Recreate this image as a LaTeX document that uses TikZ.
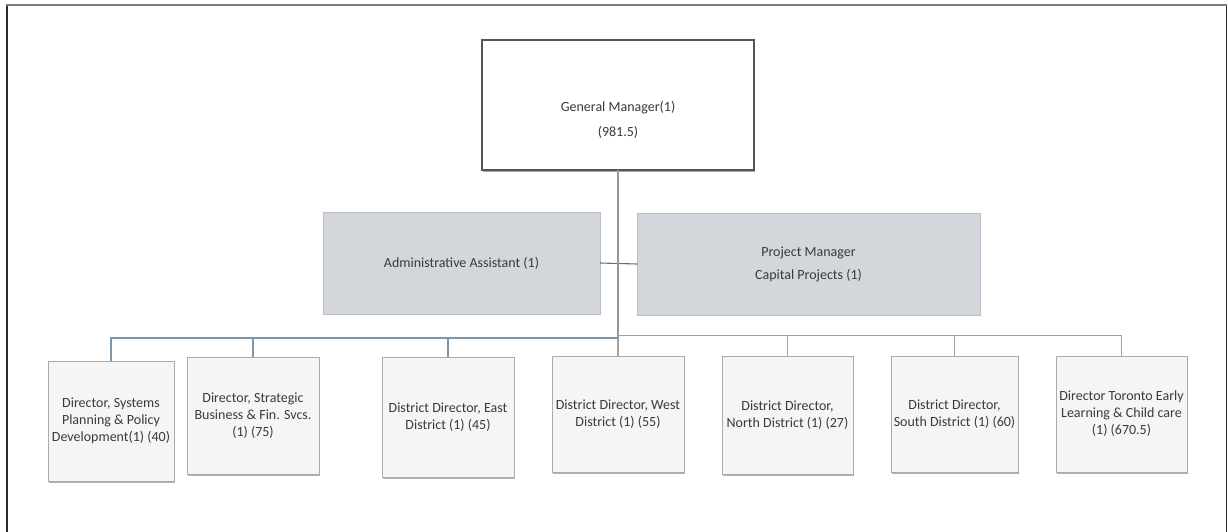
\documentclass[tikz,border=0pt]{standalone}
\usepackage{fontspec}
\setmainfont{Carlito}
\usetikzlibrary{shadows}
\definecolor{txt}{HTML}{3A3A3A}
\definecolor{gmborder}{HTML}{555555}
\definecolor{midfill}{HTML}{D3D6DB}
\definecolor{midborder}{HTML}{B9BDC3}
\definecolor{lowfill}{HTML}{F5F5F5}
\definecolor{lowborder}{HTML}{ABABAB}
\definecolor{busblue}{HTML}{7F95A8}
\definecolor{busgray}{HTML}{A3A3A3}
\definecolor{vertgray}{HTML}{8E99A3}
\definecolor{framedark}{HTML}{2A2A2A}
\definecolor{frametop}{HTML}{7C7C7C}
\begin{document}
\begin{tikzpicture}[x=1pt,y=-1pt,
  box/.style={draw, rectangle, inner sep=0pt, outer sep=0pt, align=center, text=txt,
    font=\fontsize{14}{17}\selectfont},
  gmbox/.style={box, draw=gmborder, line width=1.3pt, fill=white,
    drop shadow={shadow xshift=1pt, shadow yshift=-1.5pt, opacity=0.35, fill=black}},
  midbox/.style={box, draw=midborder, fill=midfill, line width=0.9pt},
  lowbox/.style={box, draw=lowborder, fill=lowfill, line width=0.9pt,
    drop shadow={shadow xshift=0.5pt, shadow yshift=-1.5pt, opacity=0.3, fill=black}},
  plaintext/.style={inner sep=0pt, align=center, text=txt, font=\fontsize{14}{17}\selectfont},
  bluelink/.style={draw=busblue, line width=1.1pt},
  graylink/.style={draw=busgray, line width=1.1pt},
]
\useasboundingbox (0,0) rectangle (1228,531);
% outer frame
\draw[framedark, line width=1.6pt] (7,545) -- (7,5.5);
\draw[framedark, line width=1.6pt] (1226.5,5.5) -- (1226.5,545);
\draw[frametop, line width=2pt] (6.2,5) -- (1227.3,5);

% top
\node[gmbox, minimum width=272pt, minimum height=130pt] (gm) at (618,105) {};
\node[plaintext] (gmtext) at (618,120) {General Manager(1)\\[8pt](981.5)};

% middle
\node[midbox, minimum width=277pt, minimum height=102pt] (adm) at (461.5,263) {Administrative Assistant (1)};
\node[midbox, minimum width=343pt, minimum height=102pt] (pm) at (808.5,264) {Project Manager\\[6pt]Capital Projects (1)};

% bottom row
\node[lowbox, minimum width=126pt, minimum height=120pt] (d1) at (111,421) {Director, Systems\\Planning \& Policy\\Development(1) (40)};
\node[lowbox, minimum width=132pt, minimum height=117pt] (d2) at (253,415.5) {Director, Strategic\\Business \& Fin. Svcs.\\(1) (75)};
\node[lowbox, minimum width=132pt, minimum height=120pt] (d3) at (448,417) {District Director, East\\District (1) (45)};
\node[lowbox, minimum width=132pt, minimum height=116pt] (d4) at (618,414) {District Director, West\\District (1) (55)};
\node[lowbox, minimum width=131pt, minimum height=118pt] (d5) at (787.5,415) {District Director,\\North District (1) (27)};
\node[lowbox, minimum width=127pt, minimum height=116pt] (d6) at (954.5,414) {District Director,\\South District (1) (60)};
\node[lowbox, minimum width=131pt, minimum height=116pt] (d7) at (1121.5,414) {Director Toronto Early\\Learning \& Child care\\(1) (670.5)};

% connectors
\coordinate (busL) at (618,338);
\coordinate (busR) at (618,335.5);
\draw[draw=gray!85!black, line width=1.1pt] (adm.east) -- (pm.west);
\draw[draw=vertgray, line width=1.2pt] (gm.south) -- (busL);
\draw[bluelink] (busL) -| (d1.north);
\draw[bluelink] (busL) -| (d2.north);
\draw[bluelink] (busL) -| (d3.north);
\draw[graylink] (busL) -- (d4.north);
\draw[graylink] (busR) -| (d5.north);
\draw[graylink] (busR) -| (d6.north);
\draw[graylink] (busR) -| (d7.north);
\end{tikzpicture}
\end{document}
